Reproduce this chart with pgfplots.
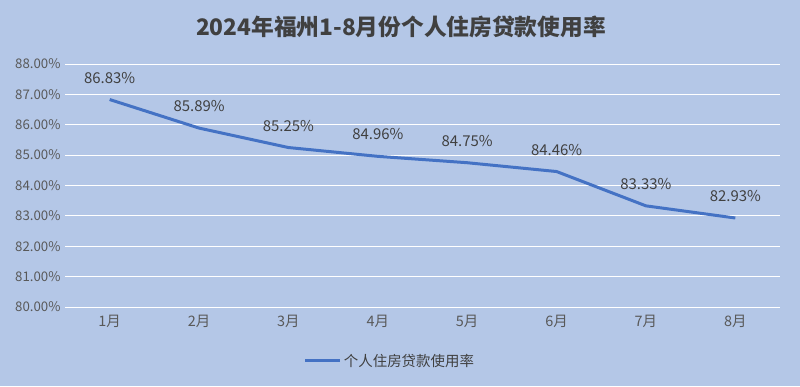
\documentclass[border=0pt]{standalone}
\usepackage{pgfplots}
\pgfplotsset{compat=1.18}
\usepackage{fontspec}
\setmainfont{Noto Sans CJK SC}
\definecolor{bg}{HTML}{B4C7E7}
\definecolor{ln}{HTML}{4472C4}
\definecolor{txt}{HTML}{404040}
\definecolor{tick}{HTML}{595959}
\begin{document}
\begin{tikzpicture}[x=1bp,y=1bp]
\fill[bg] (-65,-79) rectangle (735,307);
\begin{axis}[at={(0bp,0bp)}, anchor=south west, scale only axis,
  width=715bp, height=243bp,
  xmin=-0.5, xmax=7.5, ymin=80, ymax=88,
  ytick={80,81,...,88}, xtick={0,...,7},
  xticklabels={1月,2月,3月,4月,5月,6月,7月,8月},
  axis line style={draw=none}, tick style={draw=none},
  ymajorgrids, grid style={white, line width=1bp},
  /pgf/number format/assume math mode=true,
  yticklabel={\pgfmathprintnumber[fixed,fixed zerofill,precision=2]{\tick}\%},
  yticklabel style={font=\fontsize{13.3}{15}\selectfont, color=tick, xshift=-1bp},
  xticklabel style={font=\fontsize{14.5}{16}\selectfont, color=tick, yshift=-5bp},
  nodes near coords={\pgfmathprintnumber[fixed,fixed zerofill,precision=2]{\pgfplotspointmeta}\%},
  point meta=y,
  nodes near coords style={font=\fontsize{15}{17}\selectfont, color=txt, anchor=center, yshift=22bp},
  legend style={at={(0.4545,-0.222)}, anchor=center, draw=none, fill=none,
    font=\fontsize{14.5}{16}\selectfont, text=txt},
  legend image code/.code={\draw[#1, line width=3bp] (0bp,0bp) -- (35bp,0bp);},
]
\addplot[color=ln, line width=3bp, mark=none] coordinates {
(0,86.83) (1,85.89) (2,85.25) (3,84.96) (4,84.75) (5,84.46) (6,83.33) (7,82.93)};
\addlegendentry{个人住房贷款使用率}
\end{axis}
\node[font=\bfseries\fontsize{22.8}{26}\selectfont, color=txt] at (336,280) {2024年福州1-8月份个人住房贷款使用率};
\end{tikzpicture}
\end{document}
